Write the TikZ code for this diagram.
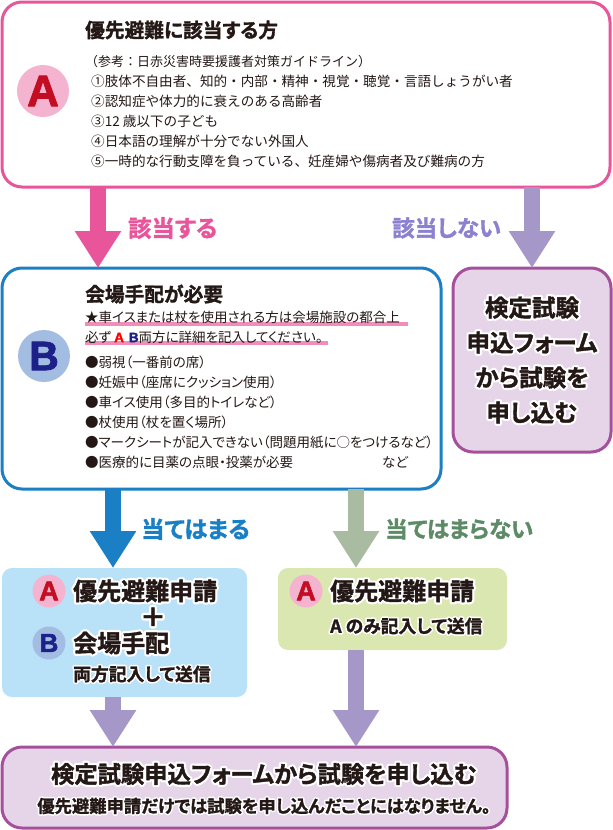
\documentclass[tikz,border=0pt]{standalone}
\usepackage{fontspec}
\usetikzlibrary{arrows.meta}
\newfontfamily\jp[RawFeature=+palt,BoldFont={Noto Sans CJK JP Bold},BoldFeatures={FakeBold=1.5}]{Noto Sans CJK JP}
\newfontfamily\jpwide{Noto Sans CJK JP}
\newfontfamily\jphalo[RawFeature=+palt,BoldFont={Noto Sans CJK JP Bold},BoldFeatures={FakeBold=20}]{Noto Sans CJK JP}
\newfontfamily\latinfont[BoldFeatures={FakeBold=2}]{Liberation Sans}
\newcommand{\jpfont}[2]{\fontsize{#1}{#2}\selectfont\jp}
\newcommand{\halo}[1]{\leavevmode\rlap{\jphalo\bfseries\color{white}#1}#1}
\definecolor{pinkline}{HTML}{E9559B}
\definecolor{pinksoft}{HTML}{F4B4CF}
\definecolor{pinkbar}{HTML}{F08EB9}
\definecolor{redmark}{HTML}{C30D23}
\definecolor{blueline}{HTML}{1A7FC5}
\definecolor{bluesoft}{HTML}{A3BCE2}
\definecolor{bluemark}{HTML}{1D2088}
\definecolor{skyfill}{HTML}{B9E1F8}
\definecolor{limefill}{HTML}{DAE7B0}
\definecolor{purpleline}{HTML}{A5509B}
\definecolor{purplefill}{HTML}{E6D5E8}
\definecolor{lavender}{HTML}{A598C9}
\definecolor{sage}{HTML}{A9BBA0}
\definecolor{sagetext}{HTML}{5D8B66}
\definecolor{inktext}{HTML}{231815}

\begin{document}
\begin{tikzpicture}[x=1pt,y=-1pt,line join=round,
    box/.style={anchor=north west,inner sep=0pt,outer sep=0pt,rounded corners=#1},
    box/.default=20pt,
    flow/.style={line width=16pt,-{Triangle[length=37pt,width=44pt]},#1},
    badge/.style={circle,inner sep=0pt,font=\latinfont\bfseries},
    title/.style={anchor=west,inner sep=0pt,text=inktext,font=\bfseries\jpfont{19.7}{24}},
    body/.style={anchor=west,inner sep=0pt,align=left,text=inktext,font=\jpfont{13.5}{20}},
    bodywide/.style={body,font=\fontsize{13.6}{20}\selectfont\jpwide},
    tag/.style={anchor=west,inner sep=0pt,font=\bfseries\jpfont{23.3}{26}},
    tagtight/.style={tag,font=\bfseries\jpfont{22.5}{26}},
    call/.style={anchor=west,inner sep=0pt,text=inktext,font=\bfseries\jpfont{24}{28}},
    note/.style={anchor=west,inner sep=0pt,text=inktext,font=\bfseries\jpfont{17.8}{20}}]
  \useasboundingbox (0,0) rectangle (613,830);

  \node[box,draw=pinkline,fill=white,line width=3pt,minimum width=608pt,minimum height=185pt] (boxA) at (2,2) {};
  \node[box,draw=blueline,fill=white,line width=3pt,minimum width=439pt,minimum height=221pt] (boxB) at (2,268) {};
  \node[box,draw=purpleline,fill=purplefill,line width=3pt,minimum width=158pt,minimum height=184pt] (boxNo) at (453,268) {};
  \node[box=10pt,fill=skyfill,minimum width=245pt,minimum height=129pt] (boxBoth) at (2,568) {};
  \node[box=10pt,fill=limefill,minimum width=229pt,minimum height=82pt] (boxOnly) at (278,568) {};
  \node[box,draw=purpleline,fill=purplefill,line width=3pt,minimum width=505pt,minimum height=81pt] (boxEnd) at (2,747) {};

  \coordinate (colA) at (98,0);
  \coordinate (colB) at (532,0);
  \coordinate (colC) at (113,0);
  \coordinate (colD) at (356,0);

  \draw[flow=pinkline] (boxA.south -| colA) -- (boxB.north -| colA);
  \draw[flow=lavender] (boxA.south -| colB) -- (boxNo.north -| colB);
  \draw[flow=blueline] (boxB.south -| colC) -- (boxBoth.north -| colC);
  \draw[flow=sage] (boxB.south -| colD) -- (boxOnly.north -| colD);
  \draw[flow=lavender] (boxBoth.south -| colC) -- (boxEnd.north -| colC);
  \draw[flow=lavender] (boxOnly.south -| colD) -- (boxEnd.north -| colD);

  \node[badge,fill=pinksoft,text=redmark,minimum size=52pt,font=\fontsize{44}{44}\selectfont\latinfont\bfseries] (badgeA) at (43,91) {A};
  \node[badge,fill=bluesoft,text=bluemark,minimum size=52pt,font=\fontsize{41}{41}\selectfont\latinfont\bfseries] (badgeB) at (44,356) {B};
  \node[badge,fill=pinksoft,text=redmark,minimum size=33pt,font=\fontsize{27}{27}\selectfont\latinfont\bfseries] (badgeBothA) at (49,591) {A};
  \node[badge,fill=bluesoft,text=bluemark,minimum size=33pt,font=\fontsize{26}{26}\selectfont\latinfont\bfseries] (badgeBothB) at (49,643) {B};
  \node[badge,fill=pinksoft,text=redmark,minimum size=33pt,font=\fontsize{27}{27}\selectfont\latinfont\bfseries] (badgeOnlyA) at (306,591) {A};

  \node[title] (titleA) at (85,30) {優先避難に該当する方};
  \node[bodywide,font=\fontsize{13}{20}\selectfont\jpwide] (guide) at (85,62) {（参考：日赤災害時要援護者対策ガイドライン）};
  \node[bodywide] (listA) at (91,121.5) {①肢体不自由者、知的・内部・精神・視覚・聴覚・言語しょうがい者\\
    ②認知症や体力的に衰えのある高齢者\\
    ③12 歳以下の子ども\\
    ④日本語の理解が十分でない外国人\\
    ⑤一時的な行動支障を負っている、妊産婦や傷病者及び難病の方};

  \node[tag,text=pinkline] (yes) at (128,228) {該当する};
  \node[tagtight,text=lavender!85!blue] (no) at (392,228) {該当しない};
  \node[tag,text=blueline] (fits) at (141,529) {当てはまる};
  \node[tagtight,text=sagetext] (nofit) at (385,529) {当てはまらない};

  \draw[pinkbar,line width=4.5pt] (85,324) -- (408,324);
  \draw[pinkbar,line width=4.5pt] (85,343) -- (328,343);
  \node[title] (titleB) at (85,294) {会場手配が必要};
  \node[body] (warn) at (85,317) {★車イスまたは杖を使用される方は会場施設の都合上};
  \node[body] (warnB) at (85,337) {必ず {\latinfont\bfseries\textcolor{red}{A}\hspace{5pt}\textcolor{bluemark}{B}}両方に詳細を記入してください。};
  \node[body] (listB) at (85,412) {●弱視（一番前の席）\\
    ●妊娠中（座席にクッション使用）\\
    ●車イス使用（多目的トイレなど）\\
    ●杖使用（杖を置く場所）\\
    ●マークシートが記入できない（問題用紙に○をつけるなど）\\
    ●医療的に目薬の点眼・投薬が必要};
  \node[body] (etc) at (382,462) {など};

  \node[anchor=center,inner sep=0pt,align=center,text=inktext,font=\bfseries\jpfont{23.5}{35}] (goForm) at (532,360) {\halo{検定試験}\\
    \halo{申込フォーム}\\
    \halo{から試験を}\\
    \halo{申し込む}};

  \node[call] (prio) at (73,591) {\halo{優先避難申請}};
  \node[anchor=center,inner sep=0pt,text=inktext,font=\bfseries\jpfont{26}{28}] (plus) at (153,617) {\halo{＋}};
  \node[call] (venue) at (73,643) {\halo{会場手配}};
  \node[note] (both) at (73,674) {\halo{両方記入して送信}};
  \node[call] (prioOnly) at (330,591) {\halo{優先避難申請}};
  \node[note] (only) at (330,626) {\halo{A のみ記入して送信}};

  \node[anchor=center,inner sep=0pt,text=inktext,font=\bfseries\jpfont{23.3}{28}] (endMain) at (264,774) {\halo{検定試験申込フォームから試験を申し込む}};
  \node[anchor=center,inner sep=0pt,text=inktext,font=\bfseries\jpfont{17.3}{20}] (endNote) at (264,806) {\halo{優先避難申請だけでは試験を申し込んだことにはなりません。}};
\end{tikzpicture}
\end{document}
